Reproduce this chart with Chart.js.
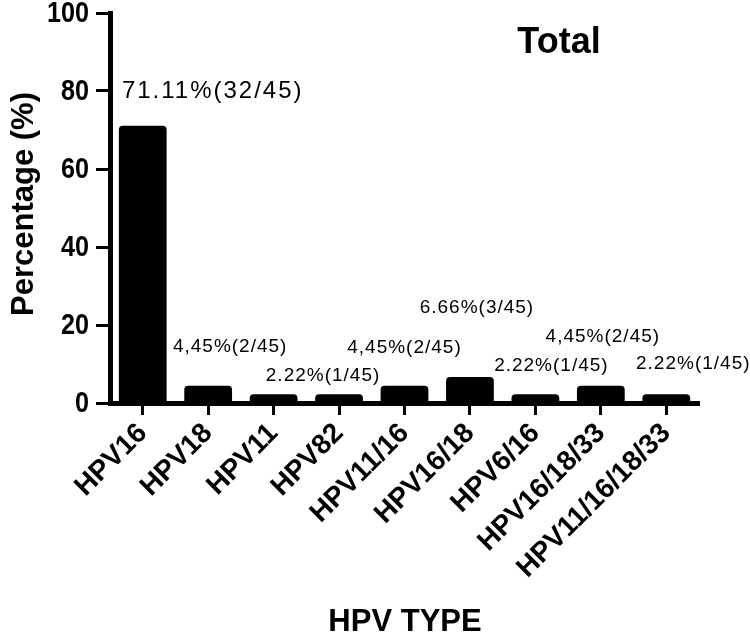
<!DOCTYPE html>
<html>
<head>
<meta charset="utf-8">
<script src="https://cdn.jsdelivr.net/npm/chart.js@4.4.1/dist/chart.umd.min.js"></script>
<style>
  html, body { margin: 0; padding: 0; background: #fff; }
  #wrap { width: 750px; height: 633px; position: relative; }
</style>
</head>
<body>
<div id="wrap"><canvas id="hpvChart"></canvas></div>
<script>
const hpvTypes = ['HPV16', 'HPV18', 'HPV11', 'HPV82', 'HPV11/16', 'HPV16/18', 'HPV6/16', 'HPV16/18/33', 'HPV11/16/18/33'];
const percentages = [71.11, 4.45, 2.22, 2.22, 4.45, 6.66, 2.22, 4.45, 2.22];
const valueLabels = ['71.11%(32/45)', '4,45%(2/45)', '', '2.22%(1/45)', '4,45%(2/45)', '6.66%(3/45)', '2.22%(1/45)', '4,45%(2/45)', '2.22%(1/45)'];
const yTicks = [0, 20, 40, 60, 80, 100];

// where each value label sits relative to its bar top (they were placed by hand in the figure)
const labelOffsets = [[70, -34], [22, -39], [0, 0], [-16, -19], [0, -38], [7, -69], [16, -29], [2, -49], [27, -31]];

const FONT = '"Liberation Sans", Arial, Helvetica, sans-serif';

const annotate = {
  id: 'annotate',
  afterDatasetsDraw(chart) {
    const ctx = chart.ctx;
    const meta = chart.getDatasetMeta(0);
    ctx.save();
    ctx.fillStyle = '#000';
    ctx.textAlign = 'center';
    ctx.textBaseline = 'middle';
    meta.data.forEach((bar, i) => {
      if (!valueLabels[i]) return;
      const big = i === 0;
      ctx.font = (big ? '24px ' : '19px ') + FONT;
      ctx.letterSpacing = big ? '2px' : '1px';
      ctx.fillText(valueLabels[i], bar.x + labelOffsets[i][0], bar.y + labelOffsets[i][1]);
    });
    ctx.restore();
  },
  afterDraw(chart) {
    const ctx = chart.ctx;
    const yScale = chart.scales.y;
    ctx.save();
    ctx.fillStyle = '#000';

    // y tick labels: tall, condensed bold digits as in the original (no narrow font installed)
    ctx.font = 'bold 30px ' + FONT;
    ctx.textAlign = 'right';
    ctx.textBaseline = 'middle';
    const squeeze = 0.84;
    yTicks.forEach(v => {
      const y = yScale.getPixelForValue(v);
      ctx.save();
      ctx.translate(89, y + 1);
      ctx.scale(squeeze, 1);
      ctx.fillText(String(v), 0, 0);
      ctx.restore();
    });

    ctx.textAlign = 'center';
    ctx.textBaseline = 'alphabetic';
    ctx.font = 'bold 36px ' + FONT;
    ctx.fillText('Total', 559, 53);

    ctx.font = 'bold 31px ' + FONT;
    ctx.fillText('HPV TYPE', 405, 631);

    // y axis title, partly clipped at the left edge like the original
    ctx.translate(33, 204);
    ctx.rotate(-Math.PI / 2);
    ctx.fillText('Percentage (%)', 0, 0);
    ctx.restore();
  }
};

function initChart() {
  const canvas = document.getElementById('hpvChart');
  const ctx = canvas.getContext('2d');

  new Chart(ctx, {
    type: 'bar',
    data: {
      labels: hpvTypes,
      datasets: [{
        data: percentages,
        backgroundColor: '#000',
        borderWidth: 0,
        borderRadius: 4,
        borderSkipped: 'start',
        barPercentage: 0.73,
        categoryPercentage: 1
      }]
    },
    options: {
      responsive: true,
      maintainAspectRatio: false,
      animation: false,
      layout: { padding: { top: 13, right: 51, left: 0, bottom: 0 } },
      plugins: {
        legend: { display: false },
        tooltip: { enabled: false }
      },
      scales: {
        x: {
          offset: true,
          grid: {
            display: true,
            offset: false,
            drawOnChartArea: false,
            tickLength: 12,
            tickWidth: 3,
            color: '#000'
          },
          border: { display: true, width: 5, color: '#000' },
          ticks: {
            color: '#000',
            autoSkip: false,
            maxRotation: 45,
            minRotation: 45,
            padding: 2,
            font: { family: FONT, size: 28, weight: 'bold' }
          },
          afterFit: (scale) => {
            scale.height = 230;
            scale.paddingLeft = 0;
            scale.paddingRight = 0;
          }
        },
        y: {
          min: yTicks[0],
          max: yTicks[yTicks.length - 1],
          afterBuildTicks: (scale) => { scale.ticks = yTicks.map(v => ({ value: v })); },
          grid: {
            display: true,
            drawOnChartArea: false,
            tickLength: 14,
            tickWidth: 3,
            color: '#000'
          },
          border: { display: true, width: 5, color: '#000' },
          ticks: { display: false },
          afterFit: (scale) => {
            scale.width = 110;
            scale.paddingTop = 0;
            scale.paddingBottom = 0;
          }
        }
      }
    },
    plugins: [annotate]
  });
}

if (document.readyState === 'loading') {
  document.addEventListener('DOMContentLoaded', initChart);
} else {
  initChart();
}
</script>
</body>
</html>
